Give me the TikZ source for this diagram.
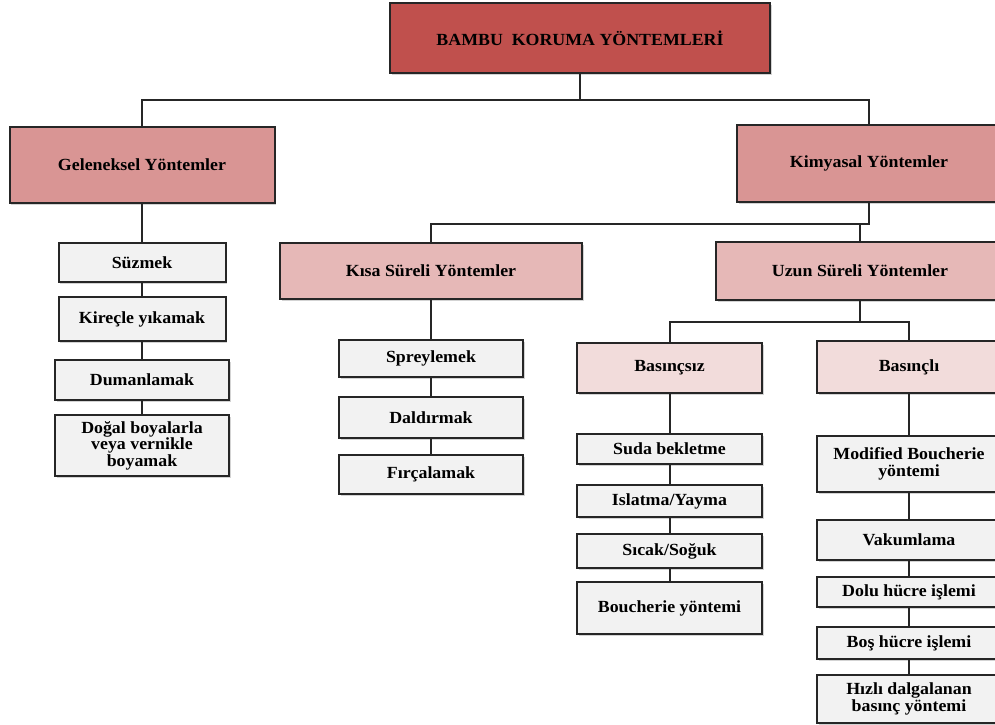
\documentclass[tikz,border=0pt]{standalone}
\usepackage{fontspec}
\setmainfont{Liberation Serif}[FakeStretch=1.05]
\usepackage{tikz}
\usetikzlibrary{shadows}
\definecolor{level0}{HTML}{C0504D}
\definecolor{level1}{HTML}{D99594}
\definecolor{level2}{HTML}{E6B8B7}
\definecolor{level3}{HTML}{F2DCDB}
\definecolor{leaf}{HTML}{F2F2F2}

\begin{document}
\begin{tikzpicture}[
  x=1pt, y=-1pt,
  box/.style={rectangle, draw=black!85, line width=2pt, inner sep=2pt,
              align=center, font=\fontsize{17}{16.5}\selectfont\bfseries,
              drop shadow={shadow xshift=1.5pt, shadow yshift=-1.5pt, opacity=0.35}},
  rootbox/.style={box, fill=level0},
  mainbox/.style={box, fill=level1},
  termbox/.style={box, fill=level2},
  pressbox/.style={box, fill=level3},
  stepbox/.style={box, fill=leaf},
  edge/.style={line width=2pt, black!85},
]

\useasboundingbox (0,0) rectangle (995,724);

\node[rootbox, minimum width=380pt, minimum height=70pt] (root) at (580, 38) {BAMBU\ \ KORUMA YÖNTEMLERİ};

\node[mainbox, minimum width=265pt, minimum height=76pt] (gel) at (142, 165) {Geleneksel Yöntemler};
\node[mainbox, minimum width=264pt, minimum height=77pt] (kim) at (869, 163.5) {Kimyasal Yöntemler};

\node[termbox, minimum width=302pt, minimum height=56pt] (kisa) at (431, 271) {Kısa Süreli Yöntemler};
\node[termbox, minimum width=288pt, minimum height=58pt] (uzun) at (860, 271) {Uzun Süreli Yöntemler};

\node[pressbox, minimum width=185pt, minimum height=50pt] (bsz) at (669.5, 368) {Basınçsız};
\node[pressbox, minimum width=184pt, minimum height=52pt] (bli) at (909, 367) {Basınçlı};

\node[stepbox, minimum width=167pt, minimum height=39pt] (suz) at (142, 262.5) {Süzmek};
\node[stepbox, minimum width=167pt, minimum height=44pt] (kirec) at (142, 319) {Kireçle yıkamak};
\node[stepbox, minimum width=174pt, minimum height=40pt] (duman) at (142, 380) {Dumanlamak};
\node[stepbox, minimum width=174pt, minimum height=61pt] (dogal) at (142, 445.5) {Doğal boyalarla\\veya vernikle\\boyamak};

\node[stepbox, minimum width=184pt, minimum height=37pt] (sprey) at (431, 358.5) {Spreylemek};
\node[stepbox, minimum width=184pt, minimum height=41pt] (daldir) at (431, 417.5) {Daldırmak};
\node[stepbox, minimum width=184pt, minimum height=39pt] (fircala) at (431, 474.5) {Fırçalamak};

\node[stepbox, minimum width=185pt, minimum height=30pt] (suda) at (669.5, 449) {Suda bekletme};
\node[stepbox, minimum width=185pt, minimum height=32pt] (islat) at (669.5, 501) {Islatma/Yayma};
\node[stepbox, minimum width=185pt, minimum height=34pt] (sicak) at (669.5, 551) {Sıcak/Soğuk};
\node[stepbox, minimum width=185pt, minimum height=52pt] (bouch) at (669.5, 608) {Boucherie yöntemi};

\node[stepbox, minimum width=184pt, minimum height=56pt] (modif) at (909, 464) {Modified Boucherie\\yöntemi};
\node[stepbox, minimum width=184pt, minimum height=40pt] (vakum) at (909, 540) {Vakumlama};
\node[stepbox, minimum width=184pt, minimum height=30pt] (dolu) at (909, 592) {Dolu hücre işlemi};
\node[stepbox, minimum width=184pt, minimum height=32pt] (bos) at (909, 643) {Boş hücre işlemi};
\node[stepbox, minimum width=184pt, minimum height=48pt] (hizli) at (909, 699) {Hızlı dalgalanan\\basınç yöntemi};

\draw[edge] (root.south) -- ++(0,26) -| (gel.north);
\draw[edge] (root.south) -- ++(0,26) -| (kim.north);
\draw[edge] (kim.south) -- ++(0,21) -| (kisa.north);
\draw[edge] (kim.south) -- ++(0,21) -| (uzun.north);
\draw[edge] (uzun.south) -- ++(0,21) -| (bsz.north);
\draw[edge] (uzun.south) -- ++(0,21) -| (bli.north);

\draw[edge] (gel.south) -- (suz.north);
\draw[edge] (suz.south) -- (kirec.north);
\draw[edge] (kirec.south) -- (duman.north);
\draw[edge] (duman.south) -- (dogal.north);

\draw[edge] (kisa.south) -- (sprey.north);
\draw[edge] (sprey.south) -- (daldir.north);
\draw[edge] (daldir.south) -- (fircala.north);

\draw[edge] (bsz.south) -- (suda.north);
\draw[edge] (suda.south) -- (islat.north);
\draw[edge] (islat.south) -- (sicak.north);
\draw[edge] (sicak.south) -- (bouch.north);

\draw[edge] (bli.south) -- (modif.north);
\draw[edge] (modif.south) -- (vakum.north);
\draw[edge] (vakum.south) -- (dolu.north);
\draw[edge] (dolu.south) -- (bos.north);
\draw[edge] (bos.south) -- (hizli.north);

\end{tikzpicture}
\end{document}
